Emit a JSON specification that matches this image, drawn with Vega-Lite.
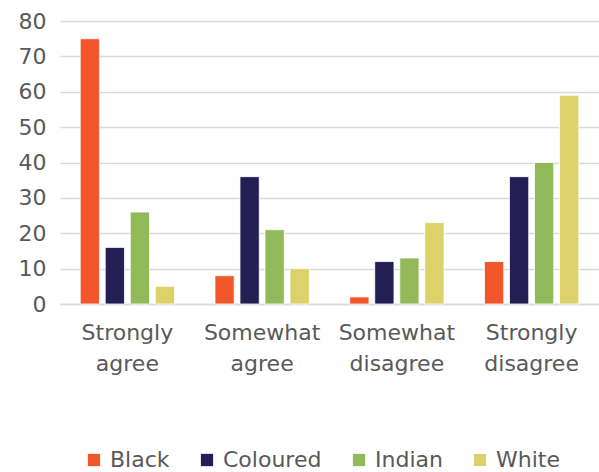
{
  "$schema": "https://vega.github.io/schema/vega-lite/v6.json",
  "width": 539,
  "height": 283,
  "autosize": {"type": "none"},
  "padding": {"left": 60, "top": 21, "right": 0, "bottom": 168},
  "background": "white",
  "config": {
    "view": {"stroke": null},
    "font": "DejaVu Sans"
  },
  "data": {
    "values": [
      {"response": "Strongly agree", "group": "Black", "value": 75},
      {"response": "Strongly agree", "group": "Coloured", "value": 16},
      {"response": "Strongly agree", "group": "Indian", "value": 26},
      {"response": "Strongly agree", "group": "White", "value": 5},
      {"response": "Somewhat agree", "group": "Black", "value": 8},
      {"response": "Somewhat agree", "group": "Coloured", "value": 36},
      {"response": "Somewhat agree", "group": "Indian", "value": 21},
      {"response": "Somewhat agree", "group": "White", "value": 10},
      {"response": "Somewhat disagree", "group": "Black", "value": 2},
      {"response": "Somewhat disagree", "group": "Coloured", "value": 12},
      {"response": "Somewhat disagree", "group": "Indian", "value": 13},
      {"response": "Somewhat disagree", "group": "White", "value": 23},
      {"response": "Strongly disagree", "group": "Black", "value": 12},
      {"response": "Strongly disagree", "group": "Coloured", "value": 36},
      {"response": "Strongly disagree", "group": "Indian", "value": 40},
      {"response": "Strongly disagree", "group": "White", "value": 59}
    ]
  },
  "mark": {"type": "bar", "stroke": "white", "strokeWidth": 0.8},
  "encoding": {
    "x": {
      "field": "response",
      "type": "nominal",
      "sort": ["Strongly agree", "Somewhat agree", "Somewhat disagree", "Strongly disagree"],
      "scale": {"paddingInner": 0.3, "paddingOuter": 0.15},
      "axis": {
        "title": null,
        "labelAngle": 0,
        "labelExpr": "split(datum.label, ' ')",
        "labelFontSize": 22,
        "labelColor": "#595959",
        "labelLineHeight": 31,
        "labelPadding": 18,
        "ticks": false,
        "domainColor": "#d9d9d9",
        "domainWidth": 1.5
      }
    },
    "xOffset": {
      "field": "group",
      "type": "nominal",
      "sort": ["Black", "Coloured", "Indian", "White"],
      "scale": {"paddingInner": 0.23, "paddingOuter": 0}
    },
    "y": {
      "field": "value",
      "type": "quantitative",
      "scale": {"domain": [0, 80]},
      "axis": {
        "title": null,
        "values": [0, 10, 20, 30, 40, 50, 60, 70, 80],
        "labelFontSize": 22,
        "labelColor": "#595959",
        "labelPadding": 14,
        "ticks": false,
        "domain": false,
        "gridColor": "#d9d9d9",
        "gridWidth": 1.5
      }
    },
    "color": {
      "field": "group",
      "type": "nominal",
      "sort": ["Black", "Coloured", "Indian", "White"],
      "scale": {
        "domain": ["Black", "Coloured", "Indian", "White"],
        "range": ["#F1572A", "#231E53", "#92BA5A", "#DDD16A"]
      },
      "legend": {
        "title": null,
        "orient": "none",
        "legendX": 23,
        "legendY": 428,
        "direction": "horizontal",
        "symbolType": "square",
        "symbolSize": 150,
        "symbolStrokeWidth": 0,
        "labelFontSize": 22,
        "labelColor": "#595959",
        "columnPadding": 26,
        "labelOffset": 5
      }
    }
  }
}
